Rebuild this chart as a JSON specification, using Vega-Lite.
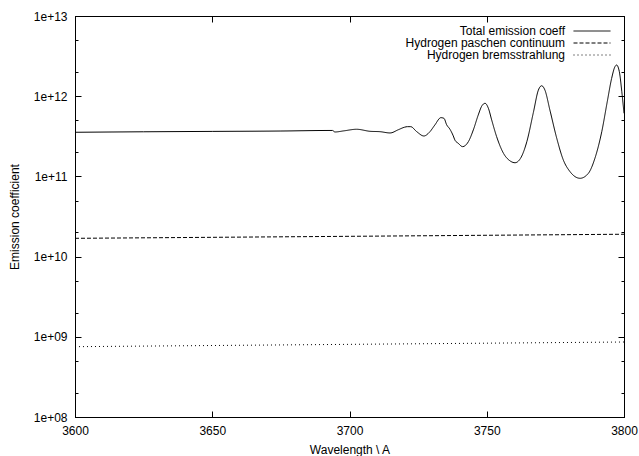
{
  "$schema": "https://vega.github.io/schema/vega-lite/v6.json",
  "autosize": "none",
  "width": 549,
  "height": 401,
  "padding": {"left": 75, "top": 16, "right": 15, "bottom": 39},
  "background": "white",
  "config": {
    "view": {"stroke": "black", "strokeWidth": 1},
    "font": "Liberation Sans",
    "axis": {"domainColor": "black", "tickColor": "black", "labelColor": "black", "titleColor": "black", "labelFont": "Liberation Sans", "titleFont": "Liberation Sans", "labelFontSize": 12, "titleFontSize": 12, "titleFontWeight": "normal", "grid": false, "domainWidth": 1, "tickWidth": 1, "labelFlush": false}
  },
  "datasets": {
    "curves": [
      {"wl": 3600, "val": 3.55e11, "series": "Total emission coeff"},
      {"wl": 3625, "val": 3.60e11, "series": "Total emission coeff"},
      {"wl": 3650, "val": 3.64e11, "series": "Total emission coeff"},
      {"wl": 3675, "val": 3.68e11, "series": "Total emission coeff"},
      {"wl": 3693.8, "val": 3.74e11, "series": "Total emission coeff"},
      {"wl": 3694.7, "val": 3.58e11, "series": "Total emission coeff"},
      {"wl": 3698, "val": 3.70e11, "series": "Total emission coeff"},
      {"wl": 3702.6, "val": 3.87e11, "series": "Total emission coeff"},
      {"wl": 3707.5, "val": 3.65e11, "series": "Total emission coeff"},
      {"wl": 3711.1, "val": 3.61e11, "series": "Total emission coeff"},
      {"wl": 3714.8, "val": 3.48e11, "series": "Total emission coeff"},
      {"wl": 3717.8, "val": 3.82e11, "series": "Total emission coeff"},
      {"wl": 3720, "val": 4.10e11, "series": "Total emission coeff"},
      {"wl": 3721.1, "val": 4.17e11, "series": "Total emission coeff"},
      {"wl": 3722.3, "val": 4.17e11, "series": "Total emission coeff"},
      {"wl": 3724.5, "val": 3.61e11, "series": "Total emission coeff"},
      {"wl": 3727.1, "val": 3.19e11, "series": "Total emission coeff"},
      {"wl": 3729.3, "val": 3.61e11, "series": "Total emission coeff"},
      {"wl": 3731.1, "val": 4.38e11, "series": "Total emission coeff"},
      {"wl": 3733.3, "val": 5.40e11, "series": "Total emission coeff"},
      {"wl": 3734.4, "val": 5.30e11, "series": "Total emission coeff"},
      {"wl": 3735.4, "val": 4.40e11, "series": "Total emission coeff"},
      {"wl": 3736.6, "val": 3.87e11, "series": "Total emission coeff"},
      {"wl": 3737.8, "val": 3.20e11, "series": "Total emission coeff"},
      {"wl": 3738.4, "val": 2.84e11, "series": "Total emission coeff"},
      {"wl": 3739.6, "val": 2.59e11, "series": "Total emission coeff"},
      {"wl": 3741.2, "val": 2.35e11, "series": "Total emission coeff"},
      {"wl": 3743.3, "val": 2.71e11, "series": "Total emission coeff"},
      {"wl": 3745.1, "val": 3.79e11, "series": "Total emission coeff"},
      {"wl": 3746.9, "val": 5.83e11, "series": "Total emission coeff"},
      {"wl": 3748.2, "val": 7.55e11, "series": "Total emission coeff"},
      {"wl": 3749.4, "val": 8.16e11, "series": "Total emission coeff"},
      {"wl": 3750.6, "val": 7.06e11, "series": "Total emission coeff"},
      {"wl": 3751.8, "val": 5.05e11, "series": "Total emission coeff"},
      {"wl": 3753.6, "val": 3.13e11, "series": "Total emission coeff"},
      {"wl": 3756.1, "val": 1.94e11, "series": "Total emission coeff"},
      {"wl": 3758.5, "val": 1.56e11, "series": "Total emission coeff"},
      {"wl": 3760.3, "val": 1.48e11, "series": "Total emission coeff"},
      {"wl": 3762.3, "val": 1.68e11, "series": "Total emission coeff"},
      {"wl": 3764.6, "val": 2.71e11, "series": "Total emission coeff"},
      {"wl": 3767, "val": 6.30e11, "series": "Total emission coeff"},
      {"wl": 3768.8, "val": 1.19e12, "series": "Total emission coeff"},
      {"wl": 3770, "val": 1.35e12, "series": "Total emission coeff"},
      {"wl": 3771.2, "val": 1.19e12, "series": "Total emission coeff"},
      {"wl": 3773, "val": 6.73e11, "series": "Total emission coeff"},
      {"wl": 3775.5, "val": 2.99e11, "series": "Total emission coeff"},
      {"wl": 3777.9, "val": 1.60e11, "series": "Total emission coeff"},
      {"wl": 3780.3, "val": 1.15e11, "series": "Total emission coeff"},
      {"wl": 3784, "val": 9.47e10, "series": "Total emission coeff"},
      {"wl": 3787, "val": 1.09e11, "series": "Total emission coeff"},
      {"wl": 3789.4, "val": 1.68e11, "series": "Total emission coeff"},
      {"wl": 3791.9, "val": 3.61e11, "series": "Total emission coeff"},
      {"wl": 3793.9, "val": 8.54e11, "series": "Total emission coeff"},
      {"wl": 3795.5, "val": 1.67e12, "series": "Total emission coeff"},
      {"wl": 3796.7, "val": 2.33e12, "series": "Total emission coeff"},
      {"wl": 3797.3, "val": 2.45e12, "series": "Total emission coeff"},
      {"wl": 3798.3, "val": 2.02e12, "series": "Total emission coeff"},
      {"wl": 3799.2, "val": 1.14e12, "series": "Total emission coeff"},
      {"wl": 3800, "val": 6.12e11, "series": "Total emission coeff"},
      {"wl": 3600, "val": 1.69e10, "series": "Hydrogen paschen continuum"},
      {"wl": 3700, "val": 1.79e10, "series": "Hydrogen paschen continuum"},
      {"wl": 3800, "val": 1.90e10, "series": "Hydrogen paschen continuum"},
      {"wl": 3600, "val": 7.53e8, "series": "Hydrogen bremsstrahlung"},
      {"wl": 3700, "val": 8.05e8, "series": "Hydrogen bremsstrahlung"},
      {"wl": 3800, "val": 8.61e8, "series": "Hydrogen bremsstrahlung"}
    ]
  },
  "data": {"name": "curves"},
  "layer": [
    {
      "transform": [{"filter": "datum.series === 'Total emission coeff'"}],
      "mark": {"type": "line", "color": "black", "strokeWidth": 1, "interpolate": "monotone"},
      "encoding": {
        "x": {"field": "wl", "type": "quantitative", "scale": {"domain": [3600, 3800], "nice": false, "zero": false},
              "axis": {"orient": "bottom", "title": "Wavelength \\ A", "values": [3600, 3650, 3700, 3750, 3800], "format": "d", "ticks": false, "labelPadding": 8, "titlePadding": 8}},
        "y": {"field": "val", "type": "quantitative", "scale": {"type": "log", "domain": [1e8, 1e13], "nice": false},
              "axis": {"orient": "left", "title": "Emission coefficient",
                       "values": [1e8, 1e9, 1e10, 1e11, 1e12, 1e13],
                       "labelExpr": "'1e+' + (round(log(datum.value)/LN10) < 10 ? '0' : '') + round(log(datum.value)/LN10)",
                       "ticks": false, "labelPadding": 8, "titlePadding": 12}},
        "strokeDash": {"field": "series", "type": "nominal",
                       "scale": {"domain": ["Total emission coeff", "Hydrogen paschen continuum", "Hydrogen bremsstrahlung"], "range": [[1, 0], [4, 2], [1, 3]]},
                       "legend": {"orient": "none", "legendX": 511, "legendY": 9, "title": null, "symbolType": "M-6,0H6", "symbolSize": 38, "symbolStrokeWidth": 1, "symbolStrokeColor": "black", "labelAlign": "right", "labelOffset": -33, "labelFontSize": 12, "labelFont": "Liberation Sans", "labelColor": "black", "rowPadding": 0, "padding": 0}}
      }
    },
    {
      "transform": [{"filter": "datum.series === 'Hydrogen paschen continuum'"}],
      "mark": {"type": "line", "color": "black", "strokeWidth": 1},
      "encoding": {
        "x": {"field": "wl", "type": "quantitative",
              "axis": {"orient": "top", "offset": -401, "title": " ", "labelOpacity": 0, "values": [3600, 3650, 3700, 3750, 3800], "tickSize": 6}},
        "y": {"field": "val", "type": "quantitative",
              "axis": {"orient": "right", "offset": -549, "title": " ", "labelOpacity": 0,
                       "values": [1e8, 2e8, 5e8, 1e9, 2e9, 5e9, 1e10, 2e10, 5e10, 1e11, 2e11, 5e11, 1e12, 2e12, 5e12, 1e13],
                       "tickSize": {"condition": {"test": "datum.value == 1e8 || datum.value == 1e9 || datum.value == 1e10 || datum.value == 1e11 || datum.value == 1e12 || datum.value == 1e13", "value": 6}, "value": 3}}},
        "strokeDash": {"field": "series", "type": "nominal"}
      }
    },
    {
      "transform": [{"filter": "datum.series === 'Hydrogen bremsstrahlung'"}],
      "mark": {"type": "line", "color": "black", "strokeWidth": 1},
      "encoding": {
        "x": {"field": "wl", "type": "quantitative",
              "axis": {"orient": "bottom", "offset": -401, "title": " ", "labelOpacity": 0, "values": [3600, 3650, 3700, 3750, 3800], "tickSize": 6}},
        "y": {"field": "val", "type": "quantitative",
              "axis": {"orient": "left", "offset": -549, "title": " ", "labelOpacity": 0,
                       "values": [1e8, 2e8, 5e8, 1e9, 2e9, 5e9, 1e10, 2e10, 5e10, 1e11, 2e11, 5e11, 1e12, 2e12, 5e12, 1e13],
                       "tickSize": {"condition": {"test": "datum.value == 1e8 || datum.value == 1e9 || datum.value == 1e10 || datum.value == 1e11 || datum.value == 1e12 || datum.value == 1e13", "value": 6}, "value": 3}}},
        "strokeDash": {"field": "series", "type": "nominal"}
      }
    }
  ],
  "resolve": {"axis": {"x": "independent", "y": "independent"}}
}
